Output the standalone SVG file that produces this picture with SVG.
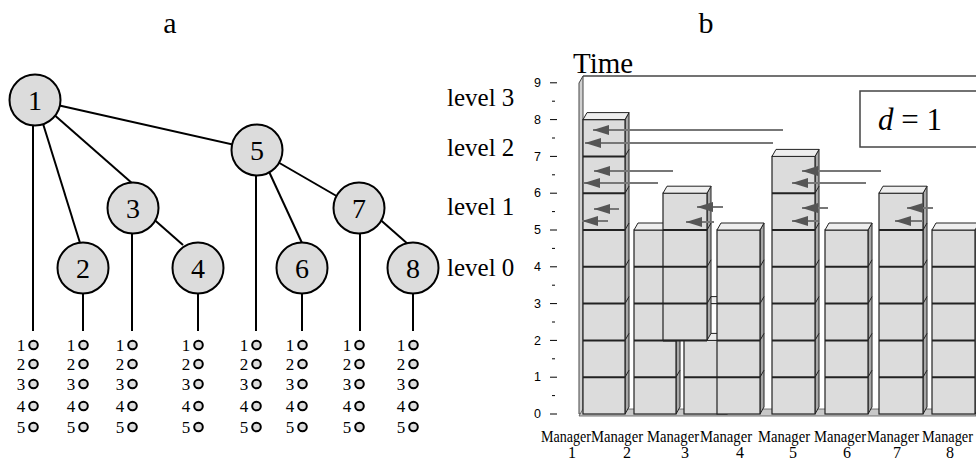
<svg xmlns="http://www.w3.org/2000/svg" width="976" height="460" viewBox="0 0 976 460">
<style>
.t{font-family:"Liberation Serif","Times New Roman",serif;fill:#000}
.ax{font-family:"Liberation Sans",Arial,sans-serif;font-size:12.5px;fill:#000}
.node circle{fill:#dcdcdc;stroke:#000;stroke-width:2}
.node text{font-family:"Liberation Serif","Times New Roman",serif;font-size:28px;text-anchor:middle}
.edge{stroke:#000;stroke-width:2;fill:none}
.lc{fill:#dcdcdc;stroke:#000;stroke-width:2}
.ld{font-family:"Liberation Serif","Times New Roman",serif;font-size:17px;text-anchor:middle}
.front{fill:#dcdcdc;stroke:#222;stroke-width:1.2}
.side{fill:#a8a8a8;stroke:#222;stroke-width:1}
.top{fill:#eeeeee;stroke:#222;stroke-width:1}
.sep{stroke:#222;stroke-width:2}
.sl{stroke:#222;stroke-width:1}
.arr{stroke:#777;stroke-width:2;marker-end:url(#ah)}
.tick{stroke:#000;stroke-width:1}
.mg{font-family:"Liberation Serif","Times New Roman",serif;font-size:16px}
.mn{font-family:"Liberation Serif","Times New Roman",serif;font-size:16px;text-anchor:middle}
</style>
<defs>
<marker id="ah" markerUnits="userSpaceOnUse" markerWidth="16" markerHeight="10" refX="16" refY="5" orient="auto">
<path d="M0,0 L16,5 L0,10 z" fill="#555"/>
</marker>
<g id="li">
<text class="ld" x="-12" y="351">1</text><circle class="lc" cx="0.5" cy="345" r="4.3"/>
<text class="ld" x="-12" y="370">2</text><circle class="lc" cx="0.5" cy="364" r="4.3"/>
<text class="ld" x="-12" y="390">3</text><circle class="lc" cx="0.5" cy="384" r="4.3"/>
<text class="ld" x="-12" y="412">4</text><circle class="lc" cx="0.5" cy="406" r="4.3"/>
<text class="ld" x="-12" y="433">5</text><circle class="lc" cx="0.5" cy="427" r="4.3"/>
</g>
</defs>
<rect width="976" height="460" fill="#fff"/>

<text class="t" x="170" y="33" font-size="30" text-anchor="middle">a</text>
<text class="t" x="706" y="33" font-size="30" text-anchor="middle">b</text>

<!-- connectors of tree a -->
<g id="connectors">
<line class="edge" x1="35" y1="100" x2="257" y2="150"/>
<line class="edge" x1="35" y1="98" x2="133" y2="184"/>
<line class="edge" x1="36" y1="101" x2="80" y2="243"/>
<line class="edge" x1="133" y1="201" x2="183" y2="245"/>
<line class="edge" x1="259" y1="150" x2="302" y2="243"/>
<line class="edge" x1="257" y1="150" x2="359" y2="209"/>
<line class="edge" x1="359" y1="201" x2="409" y2="245"/>
<line class="edge" x1="33" y1="120" x2="33" y2="331"/>
<line class="edge" x1="83" y1="290" x2="83" y2="331"/>
<line class="edge" x1="132" y1="230" x2="132" y2="331"/>
<line class="edge" x1="198" y1="290" x2="198" y2="331"/>
<line class="edge" x1="256" y1="170" x2="256" y2="331"/>
<line class="edge" x1="302" y1="290" x2="302" y2="331"/>
<line class="edge" x1="360" y1="230" x2="360" y2="331"/>
<line class="edge" x1="413" y1="290" x2="413" y2="331"/>
</g>

<g id="n1" class="node"><circle cx="35" cy="100" r="25.5"/><text x="35" y="110">1</text></g>
<g id="n2" class="node"><circle cx="83" cy="268" r="25.5"/><text x="83" y="278">2</text></g>
<g id="n3" class="node"><circle cx="133" cy="208" r="25.5"/><text x="133" y="218">3</text></g>
<g id="n4" class="node"><circle cx="198" cy="268" r="25.5"/><text x="198" y="278">4</text></g>
<g id="n5" class="node"><circle cx="257" cy="150" r="25.5"/><text x="257" y="160">5</text></g>
<g id="n6" class="node"><circle cx="302" cy="268" r="25.5"/><text x="302" y="278">6</text></g>
<g id="n7" class="node"><circle cx="359" cy="208" r="25.5"/><text x="359" y="218">7</text></g>
<g id="n8" class="node"><circle cx="413" cy="268" r="25.5"/><text x="413" y="278">8</text></g>

<g id="lists">
<use href="#li" x="33"/><use href="#li" x="83"/><use href="#li" x="132"/><use href="#li" x="198"/>
<use href="#li" x="256"/><use href="#li" x="302"/><use href="#li" x="359"/><use href="#li" x="413"/>
</g>

<g id="levels" class="t" font-size="25">
<text x="447" y="106">level 3</text>
<text x="447" y="156">level 2</text>
<text x="447" y="215">level 1</text>
<text x="447" y="276">level 0</text>
</g>

<!-- chart b -->
<g id="axis">
<text class="t" x="573" y="73" font-size="29">Time</text>
<text class="ax" x="541" y="87" text-anchor="end">9</text>
<text class="ax" x="541" y="124" text-anchor="end">8</text>
<text class="ax" x="541" y="161" text-anchor="end">7</text>
<text class="ax" x="541" y="197" text-anchor="end">6</text>
<text class="ax" x="541" y="234" text-anchor="end">5</text>
<text class="ax" x="541" y="271" text-anchor="end">4</text>
<text class="ax" x="541" y="308" text-anchor="end">3</text>
<text class="ax" x="541" y="345" text-anchor="end">2</text>
<text class="ax" x="541" y="381" text-anchor="end">1</text>
<text class="ax" x="541" y="418" text-anchor="end">0</text>
<path class="tick" d="M550,82.8h7M550,119.6h7M550,156.4h7M550,193.2h7M550,230h7M550,266.8h7M550,303.6h7M550,340.4h7M550,377.2h7M550,414h7"/>
<path class="tick" d="M552,101.2h3M552,138h3M552,174.8h3M552,211.6h3M552,248.4h3M552,285.2h3M552,322h3M552,358.8h3M552,395.6h3"/>
</g>

<g id="wall">
<polygon points="579,414 579,83 583,76 583,414" fill="#d0d0d0" stroke="#444" stroke-width="1"/>
<path d="M583,76 H976" stroke="#444" stroke-width="1.5" fill="none"/>
<polygon points="579,416 976,416 976,409 583,409" fill="#c8c8c8" stroke="#555" stroke-width="0.8"/>
</g>

<g id="box-d">
<rect x="860" y="91" width="120" height="56" fill="#fff" stroke="#444" stroke-width="1.5"/>
<text class="t" x="878" y="130" font-size="31"><tspan font-style="italic">d</tspan> = 1</text>
</g>

<g id="m1">
<polygon class="side" points="625,414 629,407 629,112.6 625,119.6"/>
<rect class="front" x="583" y="119.6" width="42" height="294.4"/>
<polygon class="top" points="583,119.6 587,112.6 629,112.6 625,119.6"/>
<path class="sep" d="M583,377.2h42M583,340.4h42M583,303.6h42M583,266.8h42M583,230h42M583,193.2h42M583,156.4h42"/>
<path class="sl" d="M625,377.2l4,-7M625,340.4l4,-7M625,303.6l4,-7M625,266.8l4,-7M625,230l4,-7M625,193.2l4,-7M625,156.4l4,-7"/>
</g>
<g id="m2">
<polygon class="side" points="676,414 680,407 680,223 676,230"/>
<rect class="front" x="634" y="230" width="42" height="184"/>
<polygon class="top" points="634,230 638,223 680,223 676,230"/>
<path class="sep" d="M634,377.2h42M634,340.4h42M634,303.6h42M634,266.8h42"/>
<path class="sl" d="M676,377.2l4,-7M676,340.4l4,-7M676,303.6l4,-7M676,266.8l4,-7"/>
</g>
<g id="m3">
<rect x="684" y="303.6" width="43" height="36.8" fill="#fff" stroke="#222" stroke-width="1"/>
<polygon class="top" points="684,303.6 688,296.6 731,296.6 727,303.6"/>
<polygon class="side" points="727,414 731,407 731,333.4 727,340.4"/>
<rect class="front" x="684" y="340.4" width="43" height="73.6"/>
<polygon class="top" points="684,340.4 688,333.4 731,333.4 727,340.4"/>
<path class="sep" d="M684,377.2h43"/>
<polygon class="side" points="707,340.4 711,333.4 711,186.2 707,193.2"/>
<rect class="front" x="663" y="193.2" width="44" height="147.2"/>
<polygon class="top" points="663,193.2 667,186.2 711,186.2 707,193.2"/>
<path class="sep" d="M663,303.6h44M663,266.8h44M663,230h44M663,340.4h44"/>
<path class="sl" d="M707,303.6l4,-7M707,266.8l4,-7M707,230l4,-7"/>
</g>
<g id="m4">
<polygon class="side" points="760,414 764,407 764,223 760,230"/>
<rect class="front" x="717" y="230" width="43" height="184"/>
<polygon class="top" points="717,230 721,223 764,223 760,230"/>
<path class="sep" d="M717,377.2h43M717,340.4h43M717,303.6h43M717,266.8h43"/>
<path class="sl" d="M760,377.2l4,-7M760,340.4l4,-7M760,303.6l4,-7M760,266.8l4,-7"/>
</g>
<g id="m5">
<polygon class="side" points="815,414 819,407 819,149.4 815,156.4"/>
<rect class="front" x="772" y="156.4" width="43" height="257.6"/>
<polygon class="top" points="772,156.4 776,149.4 819,149.4 815,156.4"/>
<path class="sep" d="M772,377.2h43M772,340.4h43M772,303.6h43M772,266.8h43M772,230h43M772,193.2h43"/>
<path class="sl" d="M815,377.2l4,-7M815,340.4l4,-7M815,303.6l4,-7M815,266.8l4,-7M815,230l4,-7M815,193.2l4,-7"/>
</g>
<g id="m6">
<polygon class="side" points="868,414 872,407 872,223 868,230"/>
<rect class="front" x="825" y="230" width="43" height="184"/>
<polygon class="top" points="825,230 829,223 872,223 868,230"/>
<path class="sep" d="M825,377.2h43M825,340.4h43M825,303.6h43M825,266.8h43"/>
<path class="sl" d="M868,377.2l4,-7M868,340.4l4,-7M868,303.6l4,-7M868,266.8l4,-7"/>
</g>
<g id="m7">
<polygon class="side" points="923,414 927,407 927,186.2 923,193.2"/>
<rect class="front" x="879" y="193.2" width="44" height="220.8"/>
<polygon class="top" points="879,193.2 883,186.2 927,186.2 923,193.2"/>
<path class="sep" d="M879,377.2h44M879,340.4h44M879,303.6h44M879,266.8h44M879,230h44"/>
<path class="sl" d="M923,377.2l4,-7M923,340.4l4,-7M923,303.6l4,-7M923,266.8l4,-7M923,230l4,-7"/>
</g>
<g id="m8">
<polygon class="side" points="975,414 979,407 979,223 975,230"/>
<rect class="front" x="932" y="230" width="43" height="184"/>
<polygon class="top" points="932,230 936,223 979,223 975,230"/>
<path class="sep" d="M932,377.2h43M932,340.4h43M932,303.6h43M932,266.8h43"/>
</g>

<g id="arrows">
<line class="arr" x1="783" y1="130" x2="593" y2="130"/>
<line class="arr" x1="773" y1="143" x2="585" y2="143"/>
<line class="arr" x1="673" y1="171" x2="594" y2="171"/>
<line class="arr" x1="658" y1="183" x2="584" y2="183"/>
<line class="arr" x1="619" y1="209" x2="594" y2="209"/>
<line class="arr" x1="608" y1="221" x2="582" y2="221"/>
<line class="arr" x1="723" y1="207" x2="697" y2="207"/>
<line class="arr" x1="714" y1="222" x2="686" y2="222"/>
<line class="arr" x1="881" y1="171" x2="802" y2="171"/>
<line class="arr" x1="866" y1="183" x2="792" y2="183"/>
<line class="arr" x1="828" y1="208" x2="802" y2="208"/>
<line class="arr" x1="818" y1="221" x2="792" y2="221"/>
<line class="arr" x1="933" y1="208" x2="907" y2="208"/>
<line class="arr" x1="923" y1="221" x2="895" y2="221"/>
</g>

<g id="labels">
<text class="mg" x="541" y="442" textLength="50" lengthAdjust="spacingAndGlyphs">Manager</text>
<text class="mg" x="591" y="442" textLength="52" lengthAdjust="spacingAndGlyphs">Manager</text>
<text class="mg" x="647" y="442" textLength="52" lengthAdjust="spacingAndGlyphs">Manager</text>
<text class="mg" x="700" y="442" textLength="52" lengthAdjust="spacingAndGlyphs">Manager</text>
<text class="mg" x="758" y="442" textLength="52" lengthAdjust="spacingAndGlyphs">Manager</text>
<text class="mg" x="814" y="442" textLength="52" lengthAdjust="spacingAndGlyphs">Manager</text>
<text class="mg" x="867" y="442" textLength="52" lengthAdjust="spacingAndGlyphs">Manager</text>
<text class="mg" x="922" y="442" textLength="51" lengthAdjust="spacingAndGlyphs">Manager</text>
<text class="mn" x="572" y="458">1</text>
<text class="mn" x="627" y="458">2</text>
<text class="mn" x="685" y="458">3</text>
<text class="mn" x="740" y="458">4</text>
<text class="mn" x="793" y="458">5</text>
<text class="mn" x="847" y="458">6</text>
<text class="mn" x="897" y="458">7</text>
<text class="mn" x="950" y="458">8</text>
</g>
</svg>
